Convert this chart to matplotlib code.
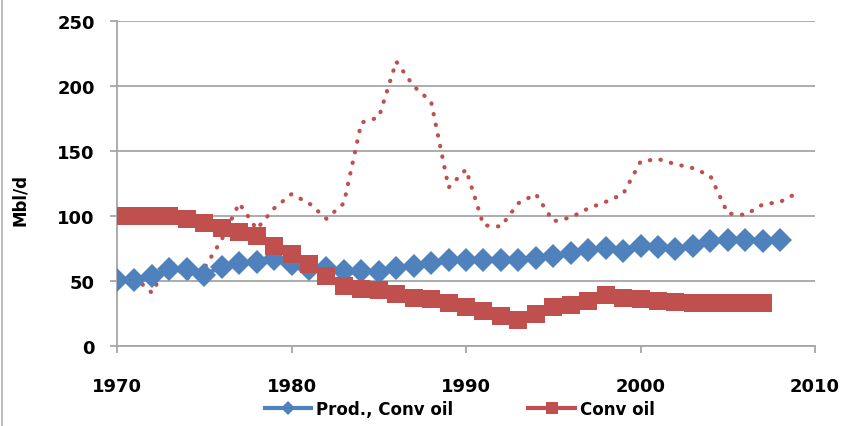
import matplotlib
matplotlib.use("Agg")
import matplotlib.pyplot as plt
from matplotlib.lines import Line2D

# conventional oil, yearly values in Mb/d
prod_years = list(range(1970, 2009))
prod_conv = [51, 51, 54, 59, 59, 55, 61, 64, 65, 67,
             63, 59, 60, 58, 58, 57, 60, 62, 64, 66,
             66, 66, 66, 66, 68, 69, 71.5, 74, 75.5, 73,
             77, 76, 74.5, 77, 81, 82, 82, 81, 82]

conv_years = list(range(1970, 2008))
conv_oil = [100, 100, 100, 100, 98, 95, 91, 88, 85, 77,
            71, 63, 54, 46, 44, 43, 40, 37, 36, 33,
            30, 27, 23, 20, 25, 30, 32, 35, 39, 37,
            36, 35, 34, 33, 33, 33, 33, 33]

# dotted curve, no legend entry
dot_years = list(range(1971, 2010))
dot_vals = [53, 41, 66, 52, 60, 82, 110, 90, 106, 117,
            110, 98, 110, 172, 176, 219, 200, 188, 122, 136,
            93, 92, 110, 117, 96, 99, 106, 111, 117, 142,
            144, 140, 137, 131, 102, 101, 109, 111, 118]

blue = "#4F81BD"
red = "#C0504D"
grid_grey = "#A6A6A6"

fig = plt.figure(figsize=(8.42, 4.27), dpi=100)
ax = fig.add_axes([0.139, 0.187, 0.829, 0.761])

ax.plot(dot_years, dot_vals, color=red, lw=3.0, linestyle=(0, (0.1, 2.5)),
        dash_capstyle="round", zorder=2)
ax.plot(prod_years, prod_conv, color=blue, lw=3, marker="D", ms=12,
        markeredgewidth=0, zorder=3)
ax.plot(conv_years, conv_oil, color=red, lw=3, marker="s", ms=12.5,
        markeredgewidth=0, zorder=4)

ax.set_xlim(1970, 2010)
ax.set_ylim(0, 250)
ax.set_xticks([1970, 1980, 1990, 2000, 2010])
ax.set_yticks([0, 50, 100, 150, 200, 250])
ax.yaxis.grid(True, color=grid_grey, lw=1.3)
ax.set_axisbelow(True)

for s in ["top", "right"]:
    ax.spines[s].set_visible(False)
for s in ["left", "bottom"]:
    ax.spines[s].set_color(grid_grey)
    ax.spines[s].set_linewidth(1.3)

ax.tick_params(axis="y", length=5, width=1.3, color=grid_grey, pad=11)
ax.tick_params(axis="x", length=5, width=1.3, color=grid_grey, pad=17)
for lab in ax.get_xticklabels() + ax.get_yticklabels():
    lab.set_fontsize(13)
    lab.set_fontweight("bold")

fig.text(0.024, 0.532, "Mbl/d", rotation=90, ha="center", va="center",
         fontsize=12, fontweight="bold")

handles = [
    Line2D([], [], color=blue, lw=3, marker="D", ms=7, markeredgewidth=0),
    Line2D([], [], color=red, lw=3, marker="s", ms=9, markeredgewidth=0),
]
fig.legend(handles, ["Prod., Conv oil", "Conv oil"], loc="center",
           bbox_to_anchor=(0.546, 0.04), ncol=2, frameon=False,
           prop={"weight": "bold", "size": 12}, handlelength=2.8,
           handletextpad=0.3, columnspacing=4.5)

# thin frame line on the left edge
fig.add_artist(Line2D([0.0025, 0.0025], [0, 1], color="#B0B0B0", lw=1.2))

fig.savefig("out.png", dpi=100)
